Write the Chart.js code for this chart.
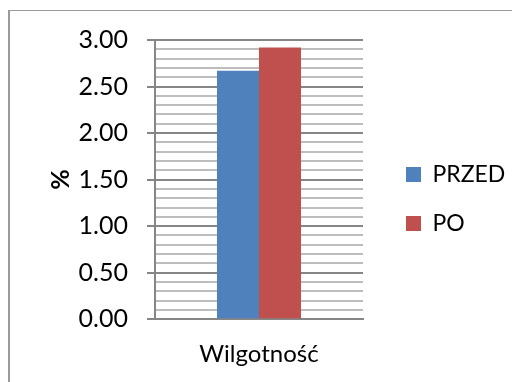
<!DOCTYPE html>
<html lang="pl">
<head>
<meta charset="UTF-8">
<title>Wilgotność</title>
<script src="https://cdn.jsdelivr.net/npm/chart.js"></script>
<style>
    html, body { margin: 0; padding: 0; overflow: hidden; background: #fff; }
    #wrap { position: relative; width: 512px; height: 382px; }
    #ramka { position: absolute; left: 8px; top: 10px; width: 560px; height: 420px; border-left: 2px solid #9a9a9a; border-top: 1px solid #9a9a9a; }
    canvas { position: absolute; left: 0; top: 0; }
</style>
</head>
<body>
<div id="wrap">
    <div id="ramka"></div>
    <canvas id="myChart" width="512" height="382"></canvas>
</div>
<script>
    // dane z wykresu
    var kategorie = ['Wilgotność'];
    var przed = [2.67];
    var po = [2.92];
    var osY = { min: 0, max: 3, krok: 0.1, glowny: 0.5 };

    function czyGlowny(v) {
        var k = v / osY.glowny;
        return Math.abs(k - Math.round(k)) < 1e-6;
    }

    // przesuniecie legendy (jak w Excelu)
    const przesunLegende = {
        id: 'przesunLegende',
        afterLayout: function (chart) {
            var l = chart.legend;
            if (!l) return;
            var dx = 406 - 26 - chart.chartArea.right;
            l.left = chart.chartArea.right + dx;
            l.right = l.left + 130;
            l.top -= 12; l.bottom -= 12;
        }
    };

    var dane = {
        labels: kategorie,
        datasets: [
            { label: 'PRZED', data: przed, backgroundColor: '#4f81bd', borderWidth: 0 },
            { label: 'PO', data: po, backgroundColor: '#c0504d', borderWidth: 0 }
        ]
    };

    const config = {
        type: 'bar',
        data: dane,
        options: {
            responsive: false,
            animation: false,
            devicePixelRatio: 1,
            layout: { padding: { left: 0, right: 28, top: 40, bottom: 0 } },
            datasets: { bar: { categoryPercentage: 0.404, barPercentage: 1 } },
            plugins: {
                tooltip: { enabled: false },
                legend: {
                    position: 'right',
                    labels: {
                        font: { family: 'Lato', size: 23 },
                        color: '#000',
                        boxWidth: 15,
                        boxHeight: 15,
                        padding: 26
                    }
                }
            },
            scales: {
                x: {
                    grid: { display: false },
                    border: { display: true, color: '#868686', width: 2 },
                    ticks: { font: { family: 'Lato', size: 24 }, color: '#000', padding: 13 }
                },
                y: {
                    min: osY.min,
                    max: osY.max,
                    afterFit: function (s) { s.width = 155; },
                    title: {
                        display: true,
                        text: '%',
                        font: { family: 'Lato', size: 25, weight: 'bold' },
                        color: '#000',
                        padding: { top: 46, bottom: 0 }
                    },
                    border: { display: true, color: '#868686', width: 2 },
                    grid: {
                        color: function (c) { return czyGlowny(c.tick.value) ? '#868686' : '#bdbdbd'; },
                        lineWidth: 2,
                        tickColor: function (c) { return czyGlowny(c.tick.value) ? '#868686' : 'rgba(0,0,0,0)'; },
                        tickLength: 8
                    },
                    ticks: {
                        stepSize: osY.krok,
                        autoSkip: false,
                        font: { family: 'Lato', size: 25 },
                        color: '#000',
                        padding: 19,
                        callback: function (v) { return czyGlowny(v) ? v.toFixed(2) : ''; }
                    }
                }
            }
        },
        plugins: [przesunLegende]
    };

    let myChart = new Chart(document.getElementById('myChart'), config);
</script>
</body>
</html>
